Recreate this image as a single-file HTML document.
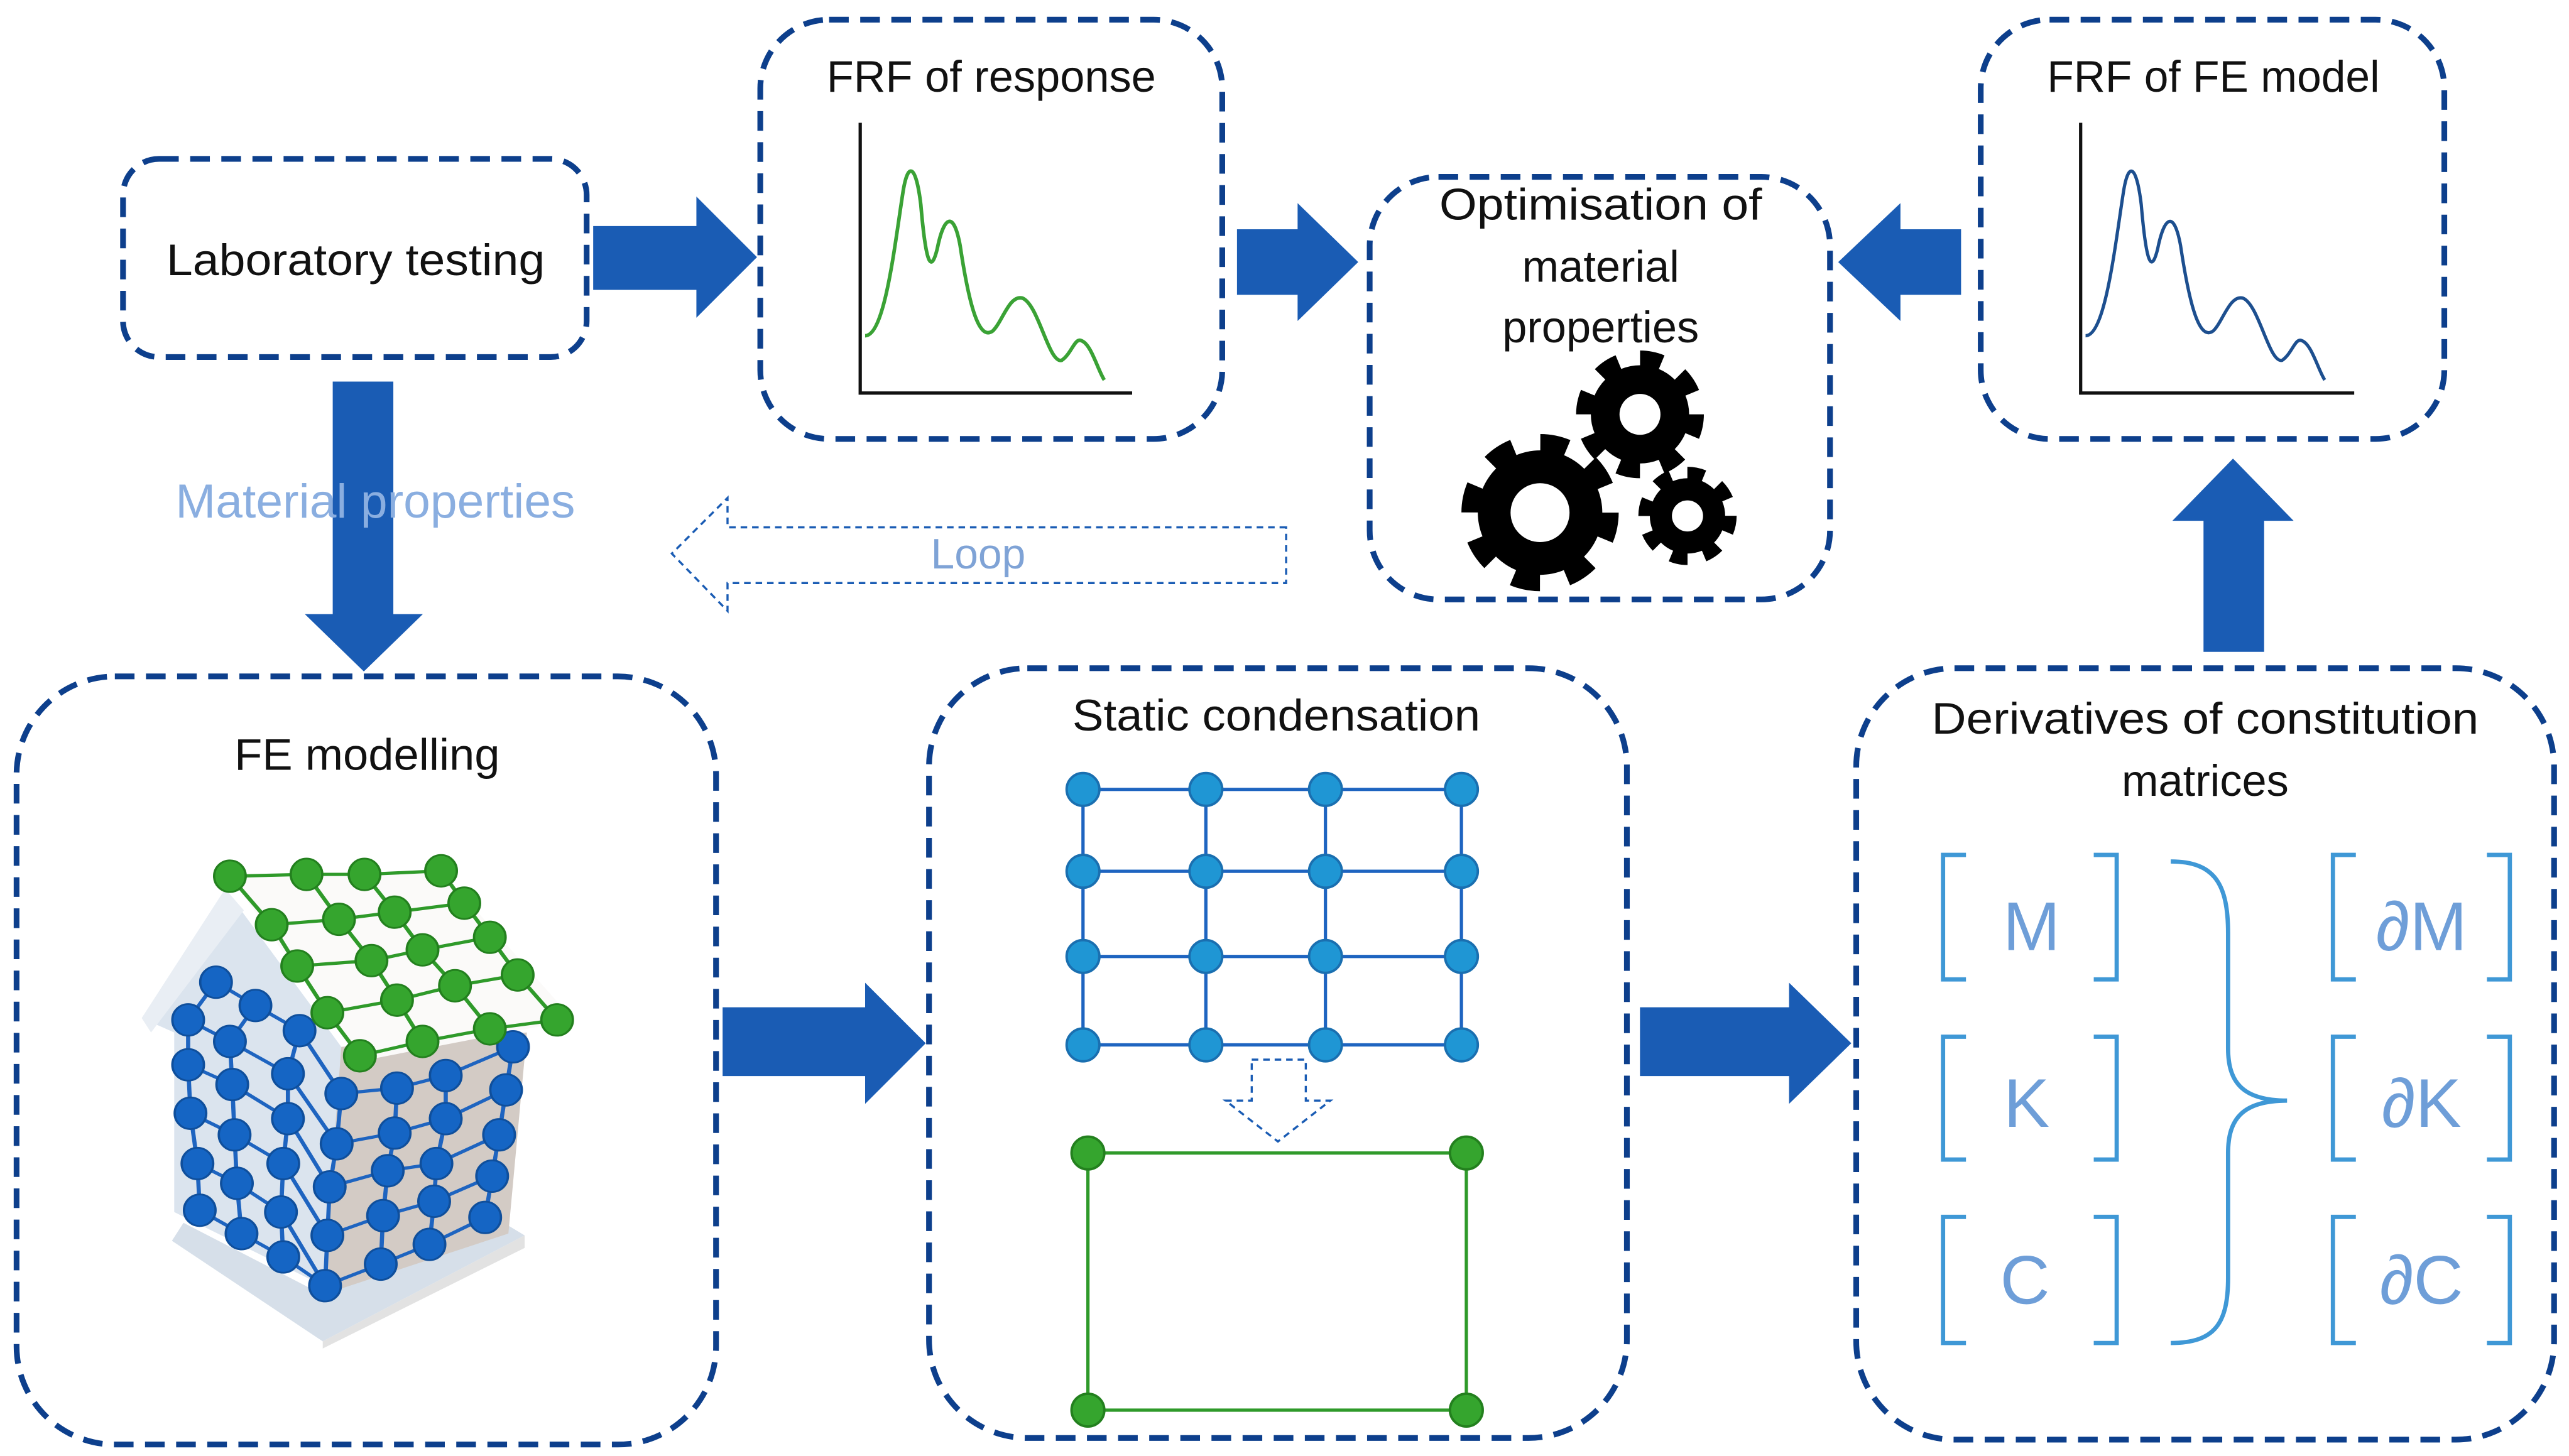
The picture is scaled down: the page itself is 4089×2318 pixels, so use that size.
<!DOCTYPE html>
<html><head><meta charset="utf-8"><style>
html,body{margin:0;padding:0;background:#fff;}
svg{display:block;}
text{font-family:"Liberation Sans",sans-serif;}
</style></head><body>
<svg width="4089" height="2318" viewBox="0 0 1568 889" xmlns="http://www.w3.org/2000/svg">
<rect width="1568" height="889" fill="#fff"/>
<g fill="none" stroke="#0d3f8c" stroke-width="3.5" stroke-dasharray="12 7">
<rect x="75" y="97" width="283" height="121" rx="22"/>
<rect x="464" y="12" width="282" height="256" rx="42"/>
<rect x="836" y="108" width="281" height="258" rx="42"/>
<rect x="1209" y="12" width="283" height="256" rx="42"/>
<rect x="10" y="413" width="427" height="469" rx="60"/>
<rect x="567" y="408" width="426" height="470" rx="60"/>
<rect x="1133" y="408" width="426" height="471" rx="60"/>
</g>
<g fill="#1a5cb4">
<polygon points="362,138 425,138 425,120 462,157 425,194 425,177 362,177"/>
<polygon points="755,140 792,140 792,124 829,160 792,196 792,180 755,180"/>
<polygon points="1197,140 1160,140 1160,124 1122,160 1160,196 1160,180 1197,180"/>
<polygon points="203,233 240,233 240,375 258,375 222,410 186,375 203,375"/>
<polygon points="1345,398 1382,398 1382,318 1400,318 1363,280 1326,318 1345,318"/>
<polygon points="441,615 528,615 528,600 565,637 528,674 528,657 441,657"/>
<polygon points="1001,615 1092,615 1092,600 1130,637 1092,674 1092,657 1001,657"/>
</g>
<polygon points="785,322 444,322 444,304 410,338 444,373 444,356 785,356" fill="none" stroke="#1a5cb4" stroke-width="1.3" stroke-dasharray="4 3"/>
<text x="597" y="347" font-size="26" fill="#7fa3d6" text-anchor="middle">Loop</text>
<text x="229" y="316" font-size="29" fill="#8aaee0" text-anchor="middle" textLength="244" lengthAdjust="spacingAndGlyphs">Material properties</text>
<g font-size="27" fill="#111" text-anchor="middle">
<text x="217" y="168" textLength="231" lengthAdjust="spacingAndGlyphs">Laboratory testing</text>
<text x="605" y="56" textLength="201" lengthAdjust="spacingAndGlyphs">FRF of response</text>
<text x="1351" y="56" textLength="203" lengthAdjust="spacingAndGlyphs">FRF of FE model</text>
<text x="977" y="134" textLength="197" lengthAdjust="spacingAndGlyphs">Optimisation of</text>
<text x="977" y="172">material</text>
<text x="977" y="209">properties</text>
<text x="224" y="470" textLength="162" lengthAdjust="spacingAndGlyphs">FE modelling</text>
<text x="779" y="446" textLength="249" lengthAdjust="spacingAndGlyphs">Static condensation</text>
<text x="1346" y="448" textLength="334" lengthAdjust="spacingAndGlyphs">Derivatives of constitution</text>
<text x="1346" y="486">matrices</text>
</g>
<g stroke="#111" stroke-width="2" fill="none">
<polyline points="525,75 525,240 691,240"/>
<polyline points="1270,75 1270,240 1437,240"/>
</g>
<path d="M528,205 C540,205 546,150 551,118 C554,98 559,100 562,125 C565,160 568,168 572,152 C576,132 582,128 586,150 C592,190 598,208 606,202 C612,196 616,180 624,182 C634,186 640,222 648,220 C654,216 656,206 660,208 C666,210 670,226 674,232" fill="none" stroke="#3aa235" stroke-width="2.2"/>
<path d="M1273,205 C1285,205 1291,150 1296,118 C1299,98 1304,100 1307,125 C1310,160 1313,168 1317,152 C1321,132 1327,128 1331,150 C1337,190 1343,208 1351,202 C1357,196 1361,180 1369,182 C1379,186 1385,222 1393,220 C1399,216 1401,206 1405,208 C1411,210 1415,226 1419,232" fill="none" stroke="#1d4f8f" stroke-width="2"/>
<g>
<circle cx="940" cy="313" r="42" fill="none" stroke="#000" stroke-width="12" stroke-dasharray="16.5 16.5"/>
<circle cx="940" cy="313" r="38" fill="#000"/>
<circle cx="940" cy="313" r="18" fill="#fff"/>
<circle cx="1001" cy="253" r="34" fill="none" stroke="#000" stroke-width="10" stroke-dasharray="13.35 13.35"/>
<circle cx="1001" cy="253" r="30" fill="#000"/>
<circle cx="1001" cy="253" r="12.5" fill="#fff"/>
<circle cx="1030" cy="315" r="26" fill="none" stroke="#000" stroke-width="8" stroke-dasharray="10.2 10.2"/>
<circle cx="1030" cy="315" r="23" fill="#000"/>
<circle cx="1030" cy="315" r="9.5" fill="#fff"/>
</g>
<g stroke="#1e64c0" stroke-width="2">
<line x1="661" y1="482" x2="892" y2="482"/><line x1="661" y1="532" x2="892" y2="532"/>
<line x1="661" y1="584" x2="892" y2="584"/><line x1="661" y1="638" x2="892" y2="638"/>
<line x1="661" y1="482" x2="661" y2="638"/><line x1="736" y1="482" x2="736" y2="638"/>
<line x1="809" y1="482" x2="809" y2="638"/><line x1="892" y1="482" x2="892" y2="638"/>
</g>
<g fill="#1f96d4" stroke="#1a6fb0" stroke-width="1.5">
<circle cx="661" cy="482" r="10"/><circle cx="736" cy="482" r="10"/><circle cx="809" cy="482" r="10"/><circle cx="892" cy="482" r="10"/>
<circle cx="661" cy="532" r="10"/><circle cx="736" cy="532" r="10"/><circle cx="809" cy="532" r="10"/><circle cx="892" cy="532" r="10"/>
<circle cx="661" cy="584" r="10"/><circle cx="736" cy="584" r="10"/><circle cx="809" cy="584" r="10"/><circle cx="892" cy="584" r="10"/>
<circle cx="661" cy="638" r="10"/><circle cx="736" cy="638" r="10"/><circle cx="809" cy="638" r="10"/><circle cx="892" cy="638" r="10"/>
</g>
<polygon points="764,647 797,647 797,672 812,672 780,697 748,672 764,672" fill="none" stroke="#1a5cb4" stroke-width="1.3" stroke-dasharray="4 3"/>
<rect x="664" y="704" width="231" height="157" fill="none" stroke="#2f9a2a" stroke-width="2"/>
<g fill="#35a52e" stroke="#23801e" stroke-width="1.5">
<circle cx="664" cy="704" r="10"/><circle cx="895" cy="704" r="10"/><circle cx="664" cy="861" r="10"/><circle cx="895" cy="861" r="10"/>
</g>
<g fill="none" stroke="#3f98d6" stroke-width="2.6">
<path d="M1200,522 H1186 V598 H1200"/><path d="M1278,522 H1292 V598 H1278"/>
<path d="M1200,633 H1186 V708 H1200"/><path d="M1278,633 H1292 V708 H1278"/>
<path d="M1200,743 H1186 V820 H1200"/><path d="M1278,743 H1292 V820 H1278"/>
<path d="M1438,522 H1424 V598 H1438"/><path d="M1518,522 H1532 V598 H1518"/>
<path d="M1438,633 H1424 V708 H1438"/><path d="M1518,633 H1532 V708 H1518"/>
<path d="M1438,743 H1424 V820 H1438"/><path d="M1518,743 H1532 V820 H1518"/>
<path d="M1325,526 C1352,526 1360,540 1360,570 V640 C1360,660 1368,672 1396,672 C1368,672 1360,684 1360,704 V780 C1360,808 1352,820 1325,820"/>
</g>
<g font-size="42" fill="#6e9ed8" text-anchor="middle">
<text x="1240" y="580">M</text><text x="1237" y="688">K</text><text x="1236" y="796">C</text>
<text x="1478" y="580">∂M</text><text x="1478" y="688">∂K</text><text x="1478" y="796">∂C</text>
</g>
<g transform="translate(85,535) scale(0.2833,0.2193) translate(-305,-165)">
<polygon points="375,1180 700,1460 1135,1165 1090,1130 700,1330 400,1130" fill="#d6dfe9"/>
<polygon points="700,1460 1135,1165 1135,1200 700,1480" fill="#e2e2e2"/>
<polygon points="310,560 490,200 740,640 740,1330 380,1100 380,600" fill="#dbe4ee"/>
<polygon points="310,560 490,200 530,260 330,600" fill="#e9eef4"/>
<polygon points="740,640 1140,600 1100,1160 700,1330" fill="#d3cbc5"/>
<polygon points="500,165 955,150 1240,565 780,680" fill="#fbfaf9"/>
<g stroke="#1e64c0" stroke-width="9" fill="none">
<polyline points="470,460 555,525 650,595 740,770 860,755 965,720 1110,640"/>
<polyline points="410,565 500,625 625,715 730,910 855,880 965,840 1095,760"/>
<polyline points="410,690 505,745 625,840 715,1030 840,985 945,965 1080,885"/>
<polyline points="415,825 510,885 615,965 710,1165 830,1110 940,1070 1065,1000"/>
<polyline points="430,965 515,1020 610,1100 705,1305 825,1245 930,1190 1050,1115"/>
<polyline points="435,1095 525,1160 615,1225 705,1305"/>
<polyline points="410,565 410,690 415,825 430,965 435,1095"/>
<polyline points="470,460 410,565"/>
<polyline points="555,525 500,625 505,745 510,885 515,1020 525,1160"/>
<polyline points="650,595 625,715 625,840 615,965 610,1100 615,1225"/>
<polyline points="740,770 730,910 715,1030 710,1165 705,1305"/>
<polyline points="860,755 855,880 840,985 830,1110 825,1245"/>
<polyline points="965,720 965,840 945,965 940,1070 930,1190"/>
<polyline points="1110,640 1095,760 1080,885 1065,1000 1050,1115"/>
</g>
<g fill="#1565c4" stroke="#0f4f9c" stroke-width="5">
<ellipse cx="470" cy="460" rx="34" ry="44"/><ellipse cx="555" cy="525" rx="34" ry="44"/><ellipse cx="650" cy="595" rx="34" ry="44"/><ellipse cx="740" cy="770" rx="34" ry="44"/>
<ellipse cx="410" cy="565" rx="34" ry="44"/><ellipse cx="500" cy="625" rx="34" ry="44"/><ellipse cx="625" cy="715" rx="34" ry="44"/><ellipse cx="730" cy="910" rx="34" ry="44"/>
<ellipse cx="410" cy="690" rx="34" ry="44"/><ellipse cx="505" cy="745" rx="34" ry="44"/><ellipse cx="625" cy="840" rx="34" ry="44"/><ellipse cx="715" cy="1030" rx="34" ry="44"/>
<ellipse cx="415" cy="825" rx="34" ry="44"/><ellipse cx="510" cy="885" rx="34" ry="44"/><ellipse cx="615" cy="965" rx="34" ry="44"/><ellipse cx="710" cy="1165" rx="34" ry="44"/>
<ellipse cx="430" cy="965" rx="34" ry="44"/><ellipse cx="515" cy="1020" rx="34" ry="44"/><ellipse cx="610" cy="1100" rx="34" ry="44"/><ellipse cx="705" cy="1305" rx="34" ry="44"/>
<ellipse cx="435" cy="1095" rx="34" ry="44"/><ellipse cx="525" cy="1160" rx="34" ry="44"/><ellipse cx="615" cy="1225" rx="34" ry="44"/>
<ellipse cx="860" cy="755" rx="34" ry="44"/><ellipse cx="855" cy="880" rx="34" ry="44"/><ellipse cx="840" cy="985" rx="34" ry="44"/><ellipse cx="830" cy="1110" rx="34" ry="44"/><ellipse cx="825" cy="1245" rx="34" ry="44"/>
<ellipse cx="965" cy="720" rx="34" ry="44"/><ellipse cx="965" cy="840" rx="34" ry="44"/><ellipse cx="945" cy="965" rx="34" ry="44"/><ellipse cx="940" cy="1070" rx="34" ry="44"/><ellipse cx="930" cy="1190" rx="34" ry="44"/>
<ellipse cx="1110" cy="640" rx="34" ry="44"/><ellipse cx="1095" cy="760" rx="34" ry="44"/><ellipse cx="1080" cy="885" rx="34" ry="44"/><ellipse cx="1065" cy="1000" rx="34" ry="44"/><ellipse cx="1050" cy="1115" rx="34" ry="44"/>
</g>
<g stroke="#2f9a2a" stroke-width="9" fill="none">
<polyline points="500,165 665,160 790,160 955,150"/>
<polyline points="590,300 735,285 855,265 1005,240"/>
<polyline points="645,415 805,400 915,370 1060,335"/>
<polyline points="710,545 860,510 985,470 1120,440"/>
<polyline points="780,665 915,625 1060,590 1205,565"/>
<polyline points="500,165 590,300 645,415 710,545 780,665"/>
<polyline points="665,160 735,285 805,400 860,510 915,625"/>
<polyline points="790,160 855,265 915,370 985,470 1060,590"/>
<polyline points="955,150 1005,240 1060,335 1120,440 1205,565"/>
</g>
<g fill="#35a52e" stroke="#23801e" stroke-width="5">
<ellipse cx="500" cy="165" rx="34" ry="44"/><ellipse cx="665" cy="160" rx="34" ry="44"/><ellipse cx="790" cy="160" rx="34" ry="44"/><ellipse cx="955" cy="150" rx="34" ry="44"/>
<ellipse cx="590" cy="300" rx="34" ry="44"/><ellipse cx="735" cy="285" rx="34" ry="44"/><ellipse cx="855" cy="265" rx="34" ry="44"/><ellipse cx="1005" cy="240" rx="34" ry="44"/>
<ellipse cx="645" cy="415" rx="34" ry="44"/><ellipse cx="805" cy="400" rx="34" ry="44"/><ellipse cx="915" cy="370" rx="34" ry="44"/><ellipse cx="1060" cy="335" rx="34" ry="44"/>
<ellipse cx="710" cy="545" rx="34" ry="44"/><ellipse cx="860" cy="510" rx="34" ry="44"/><ellipse cx="985" cy="470" rx="34" ry="44"/><ellipse cx="1120" cy="440" rx="34" ry="44"/>
<ellipse cx="780" cy="665" rx="34" ry="44"/><ellipse cx="915" cy="625" rx="34" ry="44"/><ellipse cx="1060" cy="590" rx="34" ry="44"/><ellipse cx="1205" cy="565" rx="34" ry="44"/>
</g>
</g>
</svg>
</body></html>
